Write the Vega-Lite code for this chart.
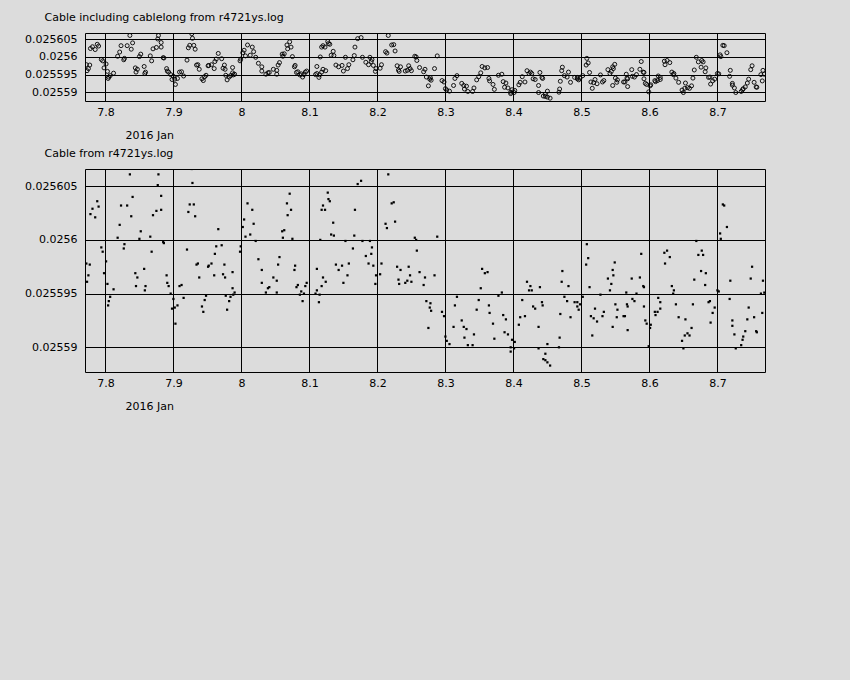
{
  "$schema": "https://vega.github.io/schema/vega-lite/v6.json",
  "description": "Cable delay from r4721ys.log, January 2016.",
  "background": "#dcdcdc",
  "padding": {"left": 24, "top": 11, "right": 85, "bottom": 268},
  "spacing": 6,
  "config": {
    "font": "DejaVu Sans",
    "view": {"stroke": "black", "strokeWidth": 1},
    "axis": {
      "grid": true,
      "gridColor": "black",
      "gridOpacity": 1,
      "gridWidth": 1,
      "ticks": false,
      "tickSize": 0,
      "domain": false,
      "labelColor": "black",
      "labelFontSize": 11,
      "labelFont": "DejaVu Sans",
      "titleColor": "black",
      "titleFontSize": 11,
      "titleFontWeight": "normal",
      "titleFont": "DejaVu Sans"
    },
    "title": {"fontSize": 11, "fontWeight": "normal", "color": "black", "anchor": "start", "font": "DejaVu Sans"}
  },
  "data": {"values": [
    {"t":7.836,"v":0.0256061},{"t":7.878,"v":0.0256061},{"t":7.927,"v":0.0256066},{"t":7.877,"v":0.0256051},{"t":7.928,"v":0.0256053},
    {"t":7.840,"v":0.0256040},{"t":7.882,"v":0.0256041},{"t":7.788,"v":0.0256036},{"t":7.781,"v":0.0256029},{"t":7.790,"v":0.0256031},
    {"t":7.823,"v":0.0256032},{"t":7.832,"v":0.0256032},{"t":7.778,"v":0.0256024},{"t":7.785,"v":0.0256021},{"t":7.838,"v":0.0256022},
    {"t":7.870,"v":0.0256023},{"t":7.875,"v":0.0256027},{"t":7.882,"v":0.0256028},{"t":7.924,"v":0.0256033},{"t":7.930,"v":0.0256033},
    {"t":7.922,"v":0.0256026},{"t":7.932,"v":0.0256022},{"t":8.009,"v":0.0256034},{"t":8.016,"v":0.0256028},{"t":8.004,"v":0.0256019},
    {"t":8.018,"v":0.0256015},{"t":8.002,"v":0.0256012},{"t":8.013,"v":0.0256005},{"t":8.006,"v":0.0256003},{"t":8.021,"v":0.0255999},
    {"t":7.821,"v":0.0256014},{"t":7.852,"v":0.0256008},{"t":7.818,"v":0.0256002},{"t":7.850,"v":0.0256001},{"t":7.866,"v":0.0256003},
    {"t":7.885,"v":0.0255998},{"t":7.886,"v":0.0255997},{"t":7.966,"v":0.0256010},{"t":7.828,"v":0.0255996},{"t":7.794,"v":0.0255993},
    {"t":7.796,"v":0.0255989},{"t":7.827,"v":0.0255992},{"t":7.868,"v":0.0255989},{"t":7.920,"v":0.0255991},{"t":7.963,"v":0.0255994},
    {"t":7.971,"v":0.0255995},{"t":7.961,"v":0.0255987},{"t":7.999,"v":0.0255994},{"t":7.998,"v":0.0255989},{"t":7.772,"v":0.0255978},
    {"t":7.777,"v":0.0255977},{"t":7.801,"v":0.0255980},{"t":7.934,"v":0.0255977},{"t":7.936,"v":0.0255978},{"t":7.951,"v":0.0255975},
    {"t":7.952,"v":0.0255976},{"t":7.956,"v":0.0255978},{"t":7.975,"v":0.0255977},{"t":7.775,"v":0.0255967},{"t":7.773,"v":0.0255961},
    {"t":7.798,"v":0.0255969},{"t":7.844,"v":0.0255969},{"t":7.847,"v":0.0255965},{"t":7.857,"v":0.0255973},{"t":7.890,"v":0.0255967},
    {"t":7.891,"v":0.0255960},{"t":7.938,"v":0.0255965},{"t":7.960,"v":0.0255967},{"t":7.973,"v":0.0255968},{"t":7.976,"v":0.0255965},
    {"t":7.987,"v":0.0255970},{"t":7.803,"v":0.0255959},{"t":7.812,"v":0.0255954},{"t":7.845,"v":0.0255957},{"t":7.859,"v":0.0255957},
    {"t":7.858,"v":0.0255953},{"t":7.893,"v":0.0255957},{"t":7.909,"v":0.0255957},{"t":7.912,"v":0.0255958},{"t":7.987,"v":0.0255955},
    {"t":7.990,"v":0.0255951},{"t":7.807,"v":0.0255947},{"t":7.805,"v":0.0255943},{"t":7.804,"v":0.0255939},{"t":7.896,"v":0.0255950},
    {"t":7.900,"v":0.0255945},{"t":7.902,"v":0.0255937},{"t":7.898,"v":0.0255936},{"t":7.906,"v":0.0255939},{"t":7.903,"v":0.0255922},
    {"t":7.915,"v":0.0255946},{"t":7.948,"v":0.0255948},{"t":7.946,"v":0.0255944},{"t":7.942,"v":0.0255938},{"t":7.944,"v":0.0255933},
    {"t":7.977,"v":0.0255948},{"t":7.984,"v":0.0255947},{"t":7.988,"v":0.0255949},{"t":7.982,"v":0.0255943},{"t":7.979,"v":0.0255935},
    {"t":8.216,"v":0.0256061},{"t":8.176,"v":0.0256055},{"t":8.171,"v":0.0256052},{"t":8.127,"v":0.0256044},{"t":8.071,"v":0.0256043},
    {"t":8.128,"v":0.0256038},{"t":8.130,"v":0.0256036},{"t":8.067,"v":0.0256034},{"t":8.073,"v":0.0256028},{"t":8.120,"v":0.0256032},
    {"t":8.118,"v":0.0256028},{"t":8.123,"v":0.0256028},{"t":8.167,"v":0.0256028},{"t":8.224,"v":0.0256035},{"t":8.221,"v":0.0256034},
    {"t":8.068,"v":0.0256023},{"t":8.063,"v":0.0256009},{"t":8.060,"v":0.0256008},{"t":8.061,"v":0.0256002},{"t":8.075,"v":0.0256001},
    {"t":8.135,"v":0.0256016},{"t":8.132,"v":0.0256005},{"t":8.136,"v":0.0256004},{"t":8.166,"v":0.0256004},{"t":8.116,"v":0.0256000},
    {"t":8.212,"v":0.0256015},{"t":8.214,"v":0.0256011},{"t":8.226,"v":0.0256017},{"t":8.255,"v":0.0256002},{"t":8.257,"v":0.0256000},
    {"t":8.153,"v":0.0255999},{"t":8.178,"v":0.0255999},{"t":8.189,"v":0.0255999},{"t":8.164,"v":0.0255992},{"t":8.192,"v":0.0255993},
    {"t":8.191,"v":0.0255987},{"t":8.183,"v":0.0255985},{"t":8.258,"v":0.0255990},{"t":8.025,"v":0.0255982},{"t":8.056,"v":0.0255984},
    {"t":8.054,"v":0.0255977},{"t":8.030,"v":0.0255972},{"t":8.079,"v":0.0255976},{"t":8.078,"v":0.0255972},{"t":8.111,"v":0.0255973},
    {"t":8.139,"v":0.0255977},{"t":8.148,"v":0.0255976},{"t":8.158,"v":0.0255978},{"t":8.143,"v":0.0255972},{"t":8.187,"v":0.0255978},
    {"t":8.194,"v":0.0255976},{"t":8.206,"v":0.0255978},{"t":8.156,"v":0.0255967},{"t":8.204,"v":0.0255968},{"t":8.198,"v":0.0255967},
    {"t":8.197,"v":0.0255959},{"t":8.229,"v":0.0255975},{"t":8.234,"v":0.0255972},{"t":8.246,"v":0.0255975},{"t":8.262,"v":0.0255970},
    {"t":8.270,"v":0.0255965},{"t":8.248,"v":0.0255967},{"t":8.231,"v":0.0255963},{"t":8.244,"v":0.0255962},{"t":8.250,"v":0.0255961},
    {"t":8.241,"v":0.0255960},{"t":8.232,"v":0.0255959},{"t":8.268,"v":0.0255958},{"t":8.047,"v":0.0255965},{"t":8.052,"v":0.0255962},
    {"t":8.030,"v":0.0255960},{"t":8.041,"v":0.0255956},{"t":8.039,"v":0.0255955},{"t":8.036,"v":0.0255951},{"t":8.052,"v":0.0255951},
    {"t":8.120,"v":0.0255965},{"t":8.124,"v":0.0255961},{"t":8.096,"v":0.0255960},{"t":8.094,"v":0.0255957},{"t":8.083,"v":0.0255958},
    {"t":8.081,"v":0.0255956},{"t":8.118,"v":0.0255957},{"t":8.111,"v":0.0255953},{"t":8.088,"v":0.0255952},{"t":8.086,"v":0.0255949},
    {"t":8.092,"v":0.0255950},{"t":8.115,"v":0.0255949},{"t":8.109,"v":0.0255950},{"t":8.090,"v":0.0255943},{"t":8.114,"v":0.0255942},
    {"t":8.272,"v":0.0255943},{"t":8.150,"v":0.0255960},
    {"t":8.288,"v":0.0256003},{"t":8.284,"v":0.0255967},{"t":8.354,"v":0.0255973},{"t":8.362,"v":0.0255970},{"t":8.358,"v":0.0255969},
    {"t":8.352,"v":0.0255955},{"t":8.317,"v":0.0255947},{"t":8.314,"v":0.0255939},{"t":8.349,"v":0.0255944},{"t":8.346,"v":0.0255935},
    {"t":8.364,"v":0.0255939},{"t":8.365,"v":0.0255932},{"t":8.378,"v":0.0255948},{"t":8.383,"v":0.0255951},{"t":8.385,"v":0.0255930},
    {"t":8.389,"v":0.0255926},{"t":8.370,"v":0.0255922},{"t":8.324,"v":0.0255925},{"t":8.331,"v":0.0255917},{"t":8.327,"v":0.0255919},
    {"t":8.312,"v":0.0255919},{"t":8.342,"v":0.0255912},{"t":8.328,"v":0.0255909},{"t":8.300,"v":0.0255910},{"t":8.302,"v":0.0255906},
    {"t":8.306,"v":0.0255903},{"t":8.333,"v":0.0255902},{"t":8.340,"v":0.0255902},{"t":8.372,"v":0.0255908},{"t":8.387,"v":0.0255914},
    {"t":8.392,"v":0.0255912},{"t":8.398,"v":0.0255907},{"t":8.402,"v":0.0255905},{"t":8.396,"v":0.0255900},{"t":8.401,"v":0.0255899},
    {"t":8.396,"v":0.0255896},{"t":8.275,"v":0.0255918},{"t":8.278,"v":0.0255941},{"t":8.277,"v":0.0255937},{"t":8.279,"v":0.0255934},
    {"t":8.295,"v":0.0255933},{"t":8.298,"v":0.0255929},{"t":8.420,"v":0.0255961},{"t":8.425,"v":0.0255957},{"t":8.423,"v":0.0255953},
    {"t":8.427,"v":0.0255953},{"t":8.439,"v":0.0255956},{"t":8.472,"v":0.0255971},{"t":8.471,"v":0.0255961},{"t":8.481,"v":0.0255957},
    {"t":8.512,"v":0.0255956},{"t":8.508,"v":0.0255996},{"t":8.510,"v":0.0255983},{"t":8.507,"v":0.0255977},{"t":8.413,"v":0.0255944},
    {"t":8.429,"v":0.0255938},{"t":8.432,"v":0.0255936},{"t":8.442,"v":0.0255942},{"t":8.443,"v":0.0255939},{"t":8.475,"v":0.0255947},
    {"t":8.479,"v":0.0255943},{"t":8.490,"v":0.0255942},{"t":8.494,"v":0.0255942},{"t":8.494,"v":0.0255938},{"t":8.498,"v":0.0255940},
    {"t":8.496,"v":0.0255935},{"t":8.502,"v":0.0255947},{"t":8.469,"v":0.0255931},{"t":8.484,"v":0.0255928},{"t":8.410,"v":0.0255928},
    {"t":8.417,"v":0.0255929},{"t":8.408,"v":0.0255921},{"t":8.437,"v":0.0255919},{"t":8.514,"v":0.0255929},{"t":8.518,"v":0.0255927},
    {"t":8.520,"v":0.0255936},{"t":8.516,"v":0.0255911},{"t":8.468,"v":0.0255909},{"t":8.450,"v":0.0255903},{"t":8.467,"v":0.0255900},
    {"t":8.437,"v":0.0255899},{"t":8.447,"v":0.0255894},{"t":8.444,"v":0.0255889},{"t":8.447,"v":0.0255888},{"t":8.450,"v":0.0255886},
    {"t":8.454,"v":0.0255883},
    {"t":8.708,"v":0.0256033},{"t":8.710,"v":0.0256032},{"t":8.714,"v":0.0256012},{"t":8.704,"v":0.0256006},{"t":8.705,"v":0.0256001},
    {"t":8.669,"v":0.0255999},{"t":8.677,"v":0.0255990},{"t":8.672,"v":0.0255986},{"t":8.679,"v":0.0255986},{"t":8.626,"v":0.0255990},
    {"t":8.622,"v":0.0255988},{"t":8.630,"v":0.0255984},{"t":8.623,"v":0.0255978},{"t":8.588,"v":0.0255987},{"t":8.549,"v":0.0255979},
    {"t":8.546,"v":0.0255972},{"t":8.547,"v":0.0255967},{"t":8.539,"v":0.0255964},{"t":8.574,"v":0.0255964},{"t":8.586,"v":0.0255965},
    {"t":8.544,"v":0.0255959},{"t":8.591,"v":0.0255957},{"t":8.592,"v":0.0255956},{"t":8.542,"v":0.0255953},{"t":8.566,"v":0.0255951},
    {"t":8.581,"v":0.0255950},{"t":8.528,"v":0.0255949},{"t":8.676,"v":0.0255971},{"t":8.683,"v":0.0255969},{"t":8.666,"v":0.0255963},
    {"t":8.682,"v":0.0255958},{"t":8.633,"v":0.0255957},{"t":8.636,"v":0.0255953},{"t":8.635,"v":0.0255950},{"t":8.700,"v":0.0255953},
    {"t":8.702,"v":0.0255952},{"t":8.719,"v":0.0255962},{"t":8.751,"v":0.0255975},{"t":8.749,"v":0.0255964},{"t":8.767,"v":0.0255962},
    {"t":8.764,"v":0.0255950},{"t":8.769,"v":0.0255951},{"t":8.613,"v":0.0255946},{"t":8.616,"v":0.0255942},{"t":8.639,"v":0.0255940},
    {"t":8.664,"v":0.0255940},{"t":8.687,"v":0.0255942},{"t":8.689,"v":0.0255943},{"t":8.696,"v":0.0255937},{"t":8.718,"v":0.0255945},
    {"t":8.746,"v":0.0255937},{"t":8.766,"v":0.0255932},{"t":8.754,"v":0.0255928},{"t":8.744,"v":0.0255926},{"t":8.722,"v":0.0255925},
    {"t":8.722,"v":0.0255920},{"t":8.725,"v":0.0255912},{"t":8.741,"v":0.0255915},{"t":8.757,"v":0.0255915},{"t":8.758,"v":0.0255914},
    {"t":8.738,"v":0.0255910},{"t":8.737,"v":0.0255907},{"t":8.735,"v":0.0255902},{"t":8.727,"v":0.0255899},{"t":8.533,"v":0.0255933},
    {"t":8.531,"v":0.0255929},{"t":8.523,"v":0.0255924},{"t":8.550,"v":0.0255940},{"t":8.553,"v":0.0255935},{"t":8.552,"v":0.0255928},
    {"t":8.562,"v":0.0255929},{"t":8.564,"v":0.0255929},{"t":8.568,"v":0.0255938},{"t":8.567,"v":0.0255940},{"t":8.575,"v":0.0255945},
    {"t":8.578,"v":0.0255943},{"t":8.592,"v":0.0255938},{"t":8.546,"v":0.0255919},{"t":8.568,"v":0.0255916},{"t":8.594,"v":0.0255925},
    {"t":8.596,"v":0.0255922},{"t":8.601,"v":0.0255918},{"t":8.602,"v":0.0255921},{"t":8.608,"v":0.0255933},{"t":8.612,"v":0.0255933},
    {"t":8.609,"v":0.0255930},{"t":8.616,"v":0.0255936},{"t":8.643,"v":0.0255928},{"t":8.653,"v":0.0255926},{"t":8.662,"v":0.0255918},
    {"t":8.652,"v":0.0255911},{"t":8.659,"v":0.0255911},{"t":8.656,"v":0.0255913},{"t":8.648,"v":0.0255906},{"t":8.650,"v":0.0255899},
    {"t":8.690,"v":0.0255923},{"t":8.693,"v":0.0255932},{"t":8.599,"v":0.0255901}
  ]},
  "vconcat": [
    {
      "title": {"text": "Cable including cablelong from r4721ys.log", "dx": 20, "offset": 10},
      "width": 680,
      "height": 68,
      "mark": {"type": "point", "shape": "circle", "filled": false, "size": 16, "color": "black", "strokeWidth": 0.9, "opacity": 1, "clip": true},
      "encoding": {
        "x": {"field": "t", "type": "quantitative",
              "scale": {"domain": [7.77, 8.77], "nice": false, "zero": false},
              "axis": {"values": [7.8, 7.9, 8.0, 8.1, 8.2, 8.3, 8.4, 8.5, 8.6, 8.7], "format": ".1~f", "labelPadding": 5,
                       "title": "2016 Jan", "titleAnchor": "start", "titleAlign": "left", "titleBaseline": "top", "titleX": 40, "titleY": 28}},
        "y": {"field": "v", "type": "quantitative",
              "scale": {"domain": [0.0255875, 0.0256068], "nice": false, "zero": false},
              "axis": {"values": [0.02559, 0.025595, 0.0256, 0.025605], "format": ".6~f", "labelPadding": 8, "title": null}}
      }
    },
    {
      "title": {"text": "Cable from r4721ys.log", "dx": 20, "offset": 10},
      "width": 680,
      "height": 203,
      "mark": {"type": "square", "size": 5, "color": "black", "opacity": 1, "clip": true},
      "encoding": {
        "x": {"field": "t", "type": "quantitative",
              "scale": {"domain": [7.77, 8.77], "nice": false, "zero": false},
              "axis": {"values": [7.8, 7.9, 8.0, 8.1, 8.2, 8.3, 8.4, 8.5, 8.6, 8.7], "format": ".1~f", "labelPadding": 5,
                       "title": "2016 Jan", "titleAnchor": "start", "titleAlign": "left", "titleBaseline": "top", "titleX": 40, "titleY": 28}},
        "y": {"field": "v", "type": "quantitative",
              "scale": {"domain": [0.0255877, 0.0256066], "nice": false, "zero": false},
              "axis": {"values": [0.02559, 0.025595, 0.0256, 0.025605], "format": ".6~f", "labelPadding": 8, "title": null}}
      }
    }
  ]
}
